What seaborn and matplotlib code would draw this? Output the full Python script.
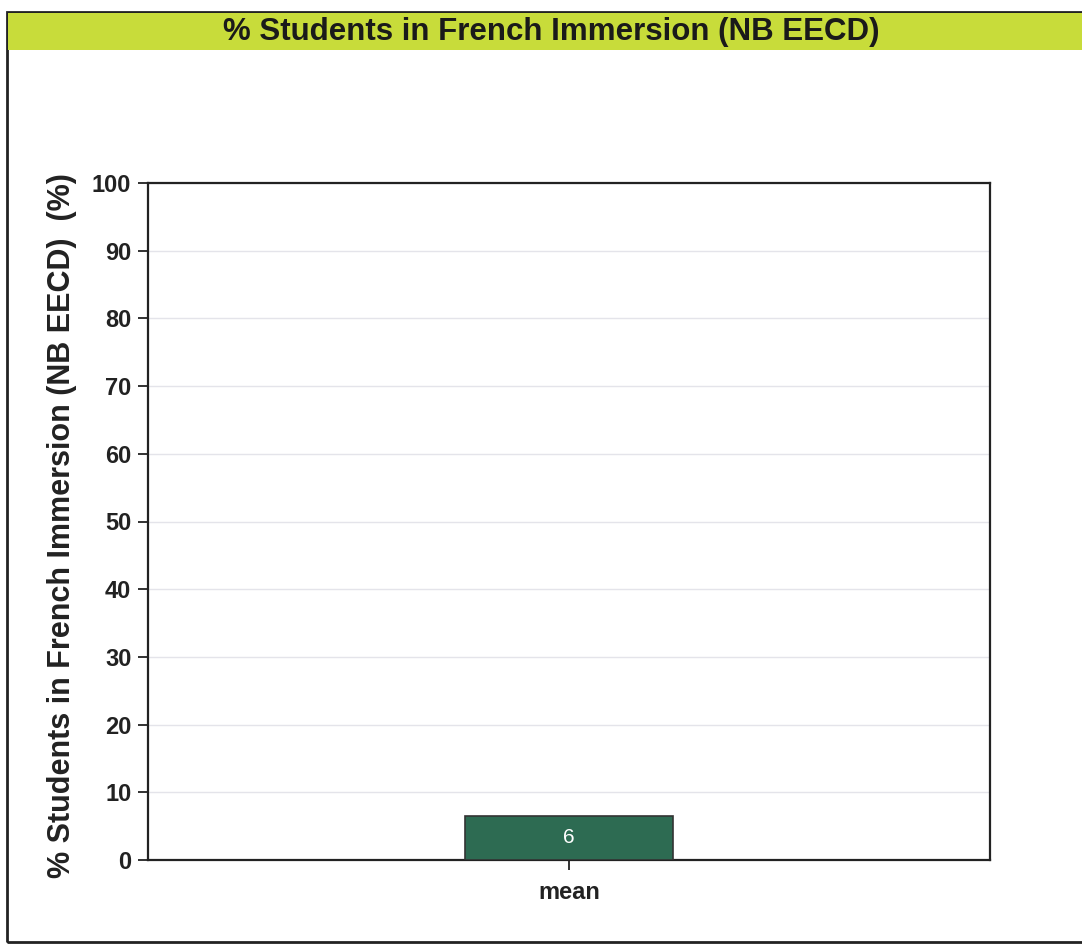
import numpy as np
import pandas as pd
import seaborn as sns
import matplotlib.pyplot as plt
from matplotlib.patches import Rectangle

sns.set_theme(style="white")
plt.rcParams['font.family'] = ['Liberation Sans', 'DejaVu Sans']

# data
categories = ['mean']
values = [6.5]
bar_labels = ['6']
yticks = [0, 10, 20, 30, 40, 50, 60, 70, 80, 90, 100]
title = '% Students in French Immersion (NB EECD)'
ylabel = '% Students in French Immersion (NB EECD)  (%)'

df = pd.DataFrame({'stat': categories, 'value': values})

fig = plt.figure(figsize=(10.82, 9.47), dpi=100)
fig.patch.set_facecolor('white')

# outer frame and the yellow-green title band
fig.patches.append(Rectangle((7 / 1082, 1 - 942 / 947), 1.1, 930 / 947, transform=fig.transFigure,
                             facecolor='none', edgecolor='#222222', linewidth=2, zorder=-1))
fig.patches.append(Rectangle((8 / 1082, 1 - 50 / 947), 1.1, 37 / 947, transform=fig.transFigure,
                             facecolor='#c8dc3a', edgecolor='none', zorder=-1))
fig.text(551 / 1082, 1 - 32 / 947, title, ha='center', va='center', fontsize=22.5,
         fontweight='bold', color='#1a1a1a')

ax = fig.add_axes([148 / 1082, 1 - 860 / 947, 842 / 1082, 677 / 947])
ax.set_zorder(2)
sns.barplot(data=df, x='stat', y='value', ax=ax, color='#2d6b52', width=0.246,
            edgecolor='#333333', linewidth=1.2, saturation=1, zorder=3)
for p, lab in zip(ax.patches, bar_labels):
    ax.text(p.get_x() + p.get_width() / 2, p.get_height() / 2, lab, ha='center', va='center',
            color='white', fontsize=15, zorder=4)

ax.set_ylim(0, 100)
ax.set_xlim(-0.5, 0.5)
ax.set_yticks(yticks)
ax.set_yticklabels([str(t) for t in yticks], fontsize=17, fontweight='bold', color='#222222')
ax.set_xticks(range(len(categories)))
ax.set_xticklabels(categories, fontsize=17, fontweight='bold', color='#222222')
ax.set_xlabel('')
ax.set_ylabel('')
ax.yaxis.grid(True, color='#e4e4ea', linewidth=1)
ax.set_axisbelow(True)
ax.tick_params(axis='both', direction='out', length=7, width=1.3, color='#222222', pad=5,
               left=True, bottom=True)
ax.tick_params(axis='x', pad=8)
for s in ax.spines.values():
    s.set_color('#222222')
    s.set_linewidth(1.6)

fig.text(62 / 1082, 1 - 526 / 947, ylabel, rotation=90, ha='center', va='center',
         fontsize=22, fontweight='bold', color='#222222')

plt.savefig('out.png', dpi=100)
